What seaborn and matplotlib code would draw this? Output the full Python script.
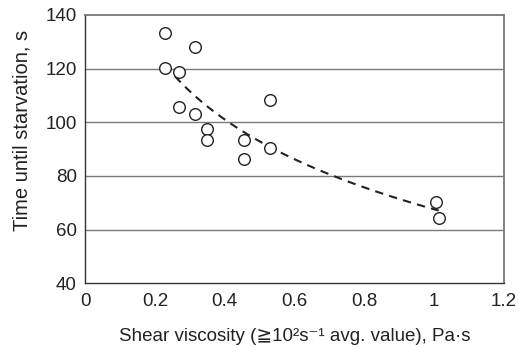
import matplotlib
matplotlib.use("Agg")
import matplotlib.pyplot as plt
import seaborn as sns
import numpy as np
import pandas as pd

viscosity = [0.23, 0.315, 0.23, 0.27, 0.27, 0.315, 0.35, 0.35, 0.455, 0.455, 0.53, 0.53, 1.005, 1.013]
time_s = [133.2, 128.2, 120.2, 118.6, 105.5, 103.2, 97.5, 93.5, 93.5, 86.4, 108.1, 90.4, 70.4, 64.4]
x_ticks = [0, 0.2, 0.4, 0.6, 0.8, 1.0, 1.2]
x_tick_labels = ["0", "0.2", "0.4", "0.6", "0.8", "1", "1.2"]
y_ticks = [40, 60, 80, 100, 120, 140]

df = pd.DataFrame({"x": viscosity, "y": time_s})

sns.set_theme(style="white")
plt.rcParams["font.family"] = ["Liberation Sans", "DejaVu Sans"]

fig = plt.figure(figsize=(5.19, 3.47), dpi=100)
ax = fig.add_axes([0.164, 0.184, 0.807, 0.773])

for yt in y_ticks[1:-1]:
    ax.axhline(yt, color="#7a7a7a", lw=1.0, zorder=0)

sns.regplot(data=df, x="x", y="y", logx=True, ci=None, scatter=False, ax=ax,
            line_kws=dict(color="#222222", lw=1.5, ls=(0, (4, 3))))
sns.scatterplot(data=df, x="x", y="y", ax=ax, marker="o", s=70,
                facecolor="white", edgecolor="#222222", linewidth=1.0, zorder=3)

ax.set_xlim(0, 1.2)
ax.set_ylim(40, 140)
ax.set_xticks(x_ticks)
ax.set_xticklabels(x_tick_labels)
ax.set_yticks(y_ticks)
ax.tick_params(axis="x", direction="in", length=4, width=0.8, color="#333333",
               labelsize=13.5, labelcolor="#222222", pad=7)
ax.tick_params(axis="y", direction="out", length=0, labelsize=13.5, labelcolor="#222222", pad=6)

for side in ["left", "bottom"]:
    ax.spines[side].set_color("#333333")
    ax.spines[side].set_linewidth(1.0)
for side in ["top", "right"]:
    ax.spines[side].set_color("#777777")
    ax.spines[side].set_linewidth(1.3)
    ax.spines[side].set_visible(True)

ax.set_xlabel("Shear viscosity (≧10²s⁻¹ avg. value), Pa·s", fontsize=13.5, color="#222222", labelpad=13)
ax.set_ylabel("Time until starvation, s", fontsize=14.5, color="#222222")
ax.yaxis.set_label_coords(-0.128, 0.57)

fig.savefig("out.png", dpi=100)
